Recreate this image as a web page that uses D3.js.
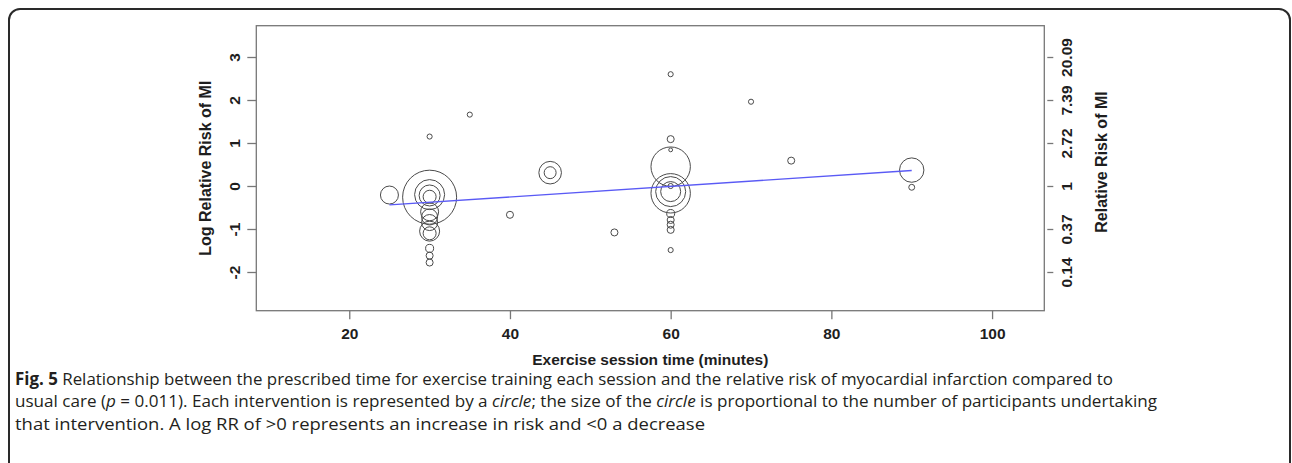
<!DOCTYPE html>
<html>
<head>
<meta charset="utf-8">
<script src="https://cdn.jsdelivr.net/npm/d3@7"></script>
<style>
  html, body { margin: 0; padding: 0; background: #fff; }
  svg { display: block; }
</style>
</head>
<body>
<svg id="chart" width="1292" height="463"></svg>
<script>
// ---- data ----
const sessionMinutes = [25, 30, 30, 30, 30, 30, 30, 30, 30, 30, 30, 30, 30, 30, 35, 40, 45, 45, 53,
  60, 60, 60, 60, 60, 60, 60, 60, 60, 60, 60, 60, 60, 70, 75, 90, 90];
const logRR = [-0.21, 1.15, -0.26, -0.20, -0.22, -0.25, -0.60, -0.72, -0.85, -1.05, -1.10, -1.45, -1.62, -1.78, 1.66, -0.67, 0.31, 0.31, -1.08,
  2.60, 1.09, 0.84, 0.45, -0.17, -0.13, -0.13, 0.00, -0.64, -0.79, -0.90, -1.02, -1.49, 1.96, 0.59, 0.37, -0.03];
const participants = [111, 9, 1000, 309, 151, 58, 111, 88, 88, 137, 58, 22, 17, 17, 9, 17, 175, 49, 17,
  9, 17, 5, 532, 532, 309, 137, 9, 22, 17, 17, 17, 9, 9, 17, 204, 12];
const fitX = [25, 90];
const fitY = [-0.44, 0.36];
const xTicks = [20, 40, 60, 80, 100];
const yTicks = [-2, -1, 0, 1, 2, 3];
const yTickLabels = ["-2", "-1", "0", "1", "2", "3"];
const rrTickLabels = ["0.14", "0.37", "1", "2.72", "7.39", "20.09"];
const xTitle = "Exercise session time (minutes)";
const yTitle = "Log Relative Risk of MI";
const y2Title = "Relative Risk of MI";

// ---- layout ----
const svg = d3.select("#chart");
const plot = {left: 256.3, right: 1044.3, top: 25.7, bottom: 310.7};
const x = d3.scaleLinear().domain([8.43, 106.5]).range([plot.left, plot.right]);
const y = d3.scaleLinear().domain([-2.9, 3.728]).range([plot.bottom, plot.top]);
const r = d3.scaleSqrt().domain([0, 1000]).range([0, 27]);
const axisFont = "'Liberation Sans', Arial, Helvetica, sans-serif";
const axisCol = "#1e1e1e";
const frameCol = "#777";
const tickFs = 15.5, titleFs = 16;

// outer rounded border
svg.append("rect")
  .attr("x", 9).attr("y", 9).attr("width", 1281).attr("height", 480)
  .attr("rx", 11).attr("ry", 11)
  .attr("fill", "none").attr("stroke", "#2a2a2a").attr("stroke-width", 2);

// plot frame
svg.append("rect")
  .attr("x", plot.left).attr("y", plot.top)
  .attr("width", plot.right - plot.left).attr("height", plot.bottom - plot.top)
  .attr("fill", "none").attr("stroke", frameCol).attr("stroke-width", 1.3);

// bottom axis
const xAxis = svg.append("g")
  .attr("transform", `translate(0,${plot.bottom})`)
  .call(d3.axisBottom(x).tickValues(xTicks).tickSize(8.5).tickPadding(9).tickSizeOuter(0));
xAxis.select(".domain").remove();
xAxis.selectAll(".tick line").attr("stroke", frameCol).attr("stroke-width", 1.3);
xAxis.selectAll(".tick text")
  .attr("font-family", axisFont).attr("font-size", tickFs).attr("font-weight", "bold")
  .attr("fill", axisCol);

// left axis
const yAxis = svg.append("g")
  .attr("transform", `translate(${plot.left},0)`)
  .call(d3.axisLeft(y).tickValues(yTicks).tickSize(9).tickSizeOuter(0)
    .tickFormat((d, i) => yTickLabels[i]));
yAxis.select(".domain").remove();
yAxis.selectAll(".tick line").attr("stroke", frameCol).attr("stroke-width", 1.3);
yAxis.selectAll(".tick text")
  .attr("font-family", axisFont).attr("font-size", tickFs).attr("font-weight", "bold")
  .attr("fill", axisCol)
  .attr("text-anchor", "middle")
  .attr("dy", null)
  .attr("transform", `translate(${235 + 5.5 - plot.left},0) rotate(-90)`)
  .attr("x", 0).attr("y", 0);

// right axis (relative risk)
const y2Axis = svg.append("g")
  .attr("transform", `translate(${plot.right + 3},0)`)
  .call(d3.axisRight(y).tickValues(yTicks).tickSize(6).tickSizeOuter(0)
    .tickFormat((d, i) => rrTickLabels[i]));
y2Axis.select(".domain").remove();
y2Axis.selectAll(".tick line").attr("stroke", frameCol).attr("stroke-width", 1.3);
y2Axis.selectAll(".tick text")
  .attr("font-family", axisFont).attr("font-size", tickFs).attr("font-weight", "bold")
  .attr("fill", axisCol)
  .attr("text-anchor", "middle")
  .attr("dy", null)
  .attr("transform", `translate(${1066 + 5.5 - plot.right - 3},0) rotate(-90)`)
  .attr("x", 0).attr("y", 0);

// axis titles
svg.append("text")
  .attr("x", (plot.left + plot.right) / 2).attr("y", 365)
  .attr("text-anchor", "middle")
  .attr("font-family", axisFont).attr("font-size", 15.5).attr("font-weight", "bold")
  .attr("fill", axisCol).text(xTitle);
svg.append("text")
  .attr("transform", `translate(${205 + 5.8},${(plot.top + plot.bottom) / 2}) rotate(-90)`)
  .attr("text-anchor", "middle")
  .attr("font-family", axisFont).attr("font-size", titleFs).attr("font-weight", "bold")
  .attr("fill", axisCol).text(yTitle);
svg.append("text")
  .attr("transform", `translate(${1101 + 5.8},162) rotate(-90)`)
  .attr("text-anchor", "middle")
  .attr("font-family", axisFont).attr("font-size", titleFs).attr("font-weight", "bold")
  .attr("fill", axisCol).text(y2Title);

// bubbles
const pts = sessionMinutes.map((m, i) => ({m, v: logRR[i], n: participants[i]}));
svg.append("g").selectAll("circle")
  .data(pts).join("circle")
  .attr("cx", d => x(d.m)).attr("cy", d => y(d.v)).attr("r", d => r(d.n))
  .attr("fill", "none").attr("stroke", "#4a4a4a").attr("stroke-width", 1);

// meta-regression line
svg.append("path")
  .datum(fitX.map((d, i) => [d, fitY[i]]))
  .attr("d", d3.line().x(d => x(d[0])).y(d => y(d[1])))
  .attr("fill", "none").attr("stroke", "#5a5af5").attr("stroke-width", 1.4);

// caption
const capFont = "'Open Sans', 'Noto Sans', sans-serif";
const cap = svg.append("g").attr("font-family", capFont).attr("font-size", 17).attr("fill", "#231f20");
const l1 = cap.append("text").attr("x", 15).attr("y", 384.5)
  .attr("textLength", 1098).attr("lengthAdjust", "spacingAndGlyphs");
l1.append("tspan").attr("font-weight", "bold").text("Fig. 5");
l1.append("tspan").text(" Relationship between the prescribed time for exercise training each session and the relative risk of myocardial infarction compared to");
const l2 = cap.append("text").attr("x", 15).attr("y", 407)
  .attr("textLength", 1142).attr("lengthAdjust", "spacingAndGlyphs");
l2.append("tspan").text("usual care (");
l2.append("tspan").attr("font-style", "italic").text("p");
l2.append("tspan").text(" = 0.011). Each intervention is represented by a ");
l2.append("tspan").attr("font-style", "italic").text("circle");
l2.append("tspan").text("; the size of the ");
l2.append("tspan").attr("font-style", "italic").text("circle");
l2.append("tspan").text(" is proportional to the number of participants undertaking");
cap.append("text").attr("x", 15).attr("y", 429.5)
  .attr("textLength", 690).attr("lengthAdjust", "spacingAndGlyphs")
  .text("that intervention. A log RR of >0 represents an increase in risk and <0 a decrease");
</script>
</body>
</html>
